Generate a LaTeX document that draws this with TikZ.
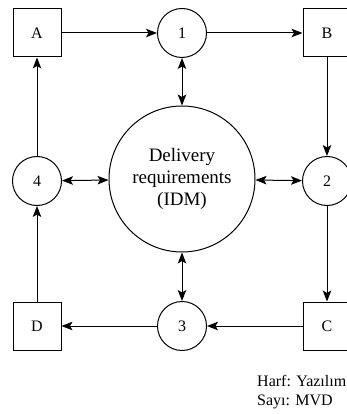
\documentclass[tikz,border=0pt]{standalone}
\usepackage{fontspec}
\setmainfont{Liberation Serif}
\usetikzlibrary{arrows.meta}
\begin{document}
\begin{tikzpicture}[x=1pt,y=-1pt,
  every node/.style={font=\fontsize{16}{18}\selectfont},
  tip/.tip={Stealth[length=11pt,width=8.5pt,inset=2.5pt]},
  boxnode/.style={draw,line width=1pt,minimum size=48pt,inner sep=0pt},
  smallcirc/.style={draw,circle,line width=1pt,minimum size=49pt,inner sep=0pt},
  bigcirc/.style={draw,circle,line width=1pt,minimum size=146pt,inner sep=0pt,align=center,font=\fontsize{19}{22}\selectfont},
  conn/.style={line width=1pt,-tip},
  biconn/.style={line width=1pt,tip-tip},
  note/.style={anchor=base west,inner sep=0pt,font=\fontsize{16}{18}\selectfont}]
\useasboundingbox (0,0) rectangle (347,414);
\fill[white] (0,0) rectangle (347,414);
\node[boxnode] (A) at (37,33) {A};
\node[smallcirc] (n1) at (182,33) {1};
\node[boxnode] (B) at (327,33) {B};
\node[smallcirc] (n4) at (37,181) {4};
\node[bigcirc] (M) at (182,179) {Delivery\\requirements\\(IDM)};
\node[smallcirc] (n2) at (327,181) {2};
\node[boxnode] (D) at (37,326) {D};
\node[smallcirc] (n3) at (182,326) {3};
\node[boxnode] (C) at (327,326) {C};
\draw[conn] (A) -- (n1);
\draw[conn] (n1) -- (B);
\draw[conn] (B) -- (n2);
\draw[conn] (n2) -- (C);
\draw[conn] (C) -- (n3);
\draw[conn] (n3) -- (D);
\draw[conn] (D) -- (n4);
\draw[conn] (n4) -- (A);
\draw[biconn] (n1) -- (M);
\draw[biconn] (n4) -- (M);
\draw[biconn] (M) -- (n2);
\draw[biconn] (M) -- (n3);
\node[note] (h1) at (257,386) {Harf: Yazılım};
\node[note] (h2) at (257,405) {Sayı: MVD};
\end{tikzpicture}
\end{document}
